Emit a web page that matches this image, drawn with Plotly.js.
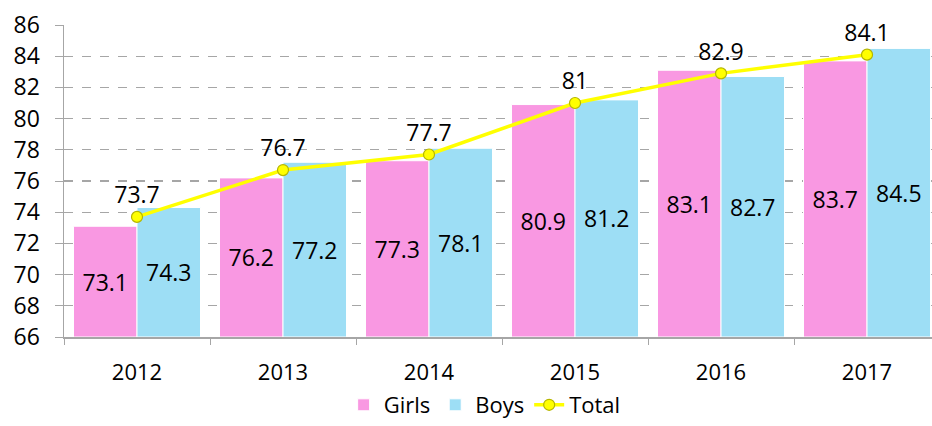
<!DOCTYPE html>
<html>
<head>
<meta charset="utf-8">
<script src="https://cdn.plot.ly/plotly-3.0.1.min.js"></script>
<style>html,body{margin:0;padding:0;background:#fff;overflow:hidden;}#chart{width:932px;height:426px;}</style>
</head>
<body>
<div id="chart"></div>
<script>
const years = ["2012", "2013", "2014", "2015", "2016", "2017"];
const girls = [73.1, 76.2, 77.3, 80.9, 83.1, 83.7];
const boys = [74.3, 77.2, 78.1, 81.2, 82.7, 84.5];
const total = [73.7, 76.7, 77.7, 81, 82.9, 84.1];
const yTicks = [66, 68, 70, 72, 74, 76, 78, 80, 82, 84, 86];
const yBase = 66;

const FONT = "Open Sans, sans-serif";
const labelFont = {family: FONT, size: 23, color: "#000"};

const traces = [
  {
    type: "bar", name: "Girls", x: years, y: girls.map(v => v - yBase),
    base: yBase, text: girls.map(String), textposition: "inside", insidetextanchor: "middle",
    textangle: 0, textfont: labelFont, constraintext: "none",
    marker: {color: "#F998E2", line: {color: "#ffffff", width: 1}},
    hoverinfo: "skip"
  },
  {
    type: "bar", name: "Boys", x: years, y: boys.map(v => v - yBase),
    base: yBase, text: boys.map(String), textposition: "inside", insidetextanchor: "middle",
    textangle: 0, textfont: labelFont, constraintext: "none",
    marker: {color: "#9DDEF5", line: {color: "#ffffff", width: 1}},
    hoverinfo: "skip"
  },
  {
    type: "scatter", mode: "lines+markers+text", name: "Total", x: years, y: total,
    text: total.map(String), textposition: "top center", textfont: labelFont,
    line: {color: "#FFFF00", width: 3.5},
    marker: {size: 11, color: "#FFFF00", line: {color: "#B5B500", width: 1.2}},
    cliponaxis: false, hoverinfo: "skip"
  }
];

const layout = {
  width: 932, height: 426,
  margin: {l: 64, r: 0, t: 25, b: 89, autoexpand: false},
  paper_bgcolor: "#fff", plot_bgcolor: "#fff",
  barmode: "group", bargap: 0.13, bargroupgap: 0,
  font: {family: FONT, size: 22, color: "#000"},
  showlegend: true,
  legend: {orientation: "h", x: 0.52, xref: "container", xanchor: "center",
           y: 0, yref: "container", yanchor: "bottom",
           font: {family: FONT, size: 22, color: "#000"}, tracegroupgap: 0},
  xaxis: {
    type: "category", range: [-0.5, 5.445], automargin: false,
    showline: true, linecolor: "#a6a6a6", linewidth: 1.5,
    ticks: "outside", tickson: "boundaries", ticklen: 6, tickcolor: "#a6a6a6",
    ticklabelstandoff: 15,
    tickfont: {family: FONT, size: 22, color: "#000"},
    showgrid: false, fixedrange: true
  },
  yaxis: {
    range: [66, 86], tickvals: yTicks, ticktext: yTicks.map(String), automargin: false,
    showline: true, linecolor: "#a6a6a6", linewidth: 1.5,
    ticks: "outside", ticklen: 8, tickcolor: "#a6a6a6",
    ticklabelstandoff: 10,
    showgrid: true, gridcolor: "#a6a6a6", griddash: "dash", gridwidth: 1.3,
    zeroline: false,
    tickfont: {family: FONT, size: 23, color: "#000"}, fixedrange: true
  }
};

Plotly.newPlot("chart", traces, layout, {displayModeBar: false, staticPlot: true});
</script>
</body>
</html>
